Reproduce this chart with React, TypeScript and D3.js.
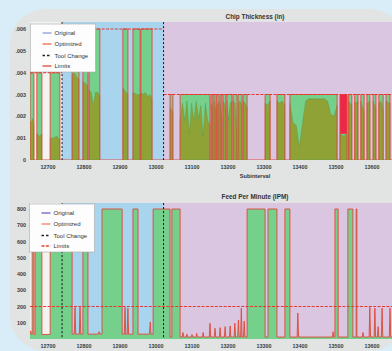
import React from "react"
import * as d3 from "d3"

// axis ticks
const xTicks = [12700, 12800, 12900, 13000, 13100, 13200, 13300, 13400, 13500, 13600]
const chipTicks = [0, 0.001, 0.002, 0.003, 0.004, 0.005, 0.006]
const feedTicks = [100, 200, 300, 400, 500, 600, 700, 800]
const legendLabels = ["Original", "Optimized", "Tool Change", "Limits"]

// tools
const toolChanges = [12739, 13021]
const chipLimits = [0.004, 0.006, 0.003]
const feedLimit = 200
const feedMax = 800
const feedBase = [28, 30, 12]

// chip thickness: [start, end, original samples]
const chipCuts: [number, number, number[]][] = [
    [12650, 12661, [0.0018, 0.0017, 0.0019, 0.0016]],
    [12669, 12683, [0.0012, 0.0011, 0.0012]],
    [12706, 12733, [0.001, 0.001, 0.0011, 0.0009]],
    [12767, 12786, [0.0039, 0.004, 0.0038, 0.0037]],
    [12797, 12811, [0.0036, 0.0035, 0.0034]],
    [12814, 12844, [0.0032, 0.0031, 0.0025, 0.0031, 0.0031, 0.0029]],
    [12908, 12922, [0.0033, 0.0032, 0.0031, 0.003]],
    [12936, 12956, [0.0031, 0.003, 0.003]],
    [12958, 12989, [0.0031, 0.003, 0.0031, 0.0029, 0.003, 0.0028]],
    [13039, 13047, [0.0024, 0.0022]],
    [13067, 13150, [0.0018, 0.0026, 0.0018, 0.0027, 0.0012, 0.0026, 0.0018, 0.0027, 0.0019, 0.0025, 0.0011, 0.0026, 0.0018, 0.0016]],
    [13153, 13158, [0.0026, 0.0024]],
    [13161, 13167, [0.0027, 0.0022]],
    [13169, 13175, [0.0025, 0.0027]],
    [13178, 13183, [0.0026, 0.0019]],
    [13186, 13194, [0.0027, 0.0026, 0.0023]],
    [13197, 13211, [0.0027, 0.0018, 0.0026, 0.0027]],
    [13214, 13225, [0.0027, 0.0026, 0.0013]],
    [13228, 13239, [0.0026, 0.0027, 0.0025]],
    [13242, 13253, [0.0027, 0.0026, 0.0024]],
    [13303, 13317, [0.0026, 0.0025, 0.0027]],
    [13336, 13358, [0.0027, 0.0026, 0.0027, 0.0025]],
    [13372, 13503, [0.0026, 0.0017, 0.0016, 0.0006, 0.0017, 0.0027, 0.0028, 0.0028, 0.0028, 0.0028, 0.0028, 0.0028, 0.0027, 0.0021, 0.002, 0.0025]],
    [13511, 13531, [0.0012, 0.0011, 0.0012]],
    [13535, 13544, [0.0027, 0.0025]],
    [13552, 13561, [0.0026, 0.0027]],
    [13569, 13578, [0.0027, 0.0022]],
    [13586, 13594, [0.0026, 0.0027]],
    [13603, 13611, [0.0027, 0.0024]],
    [13619, 13631, [0.0026, 0.0027, 0.0023]],
    [13639, 13650, [0.0027, 0.0026]],
    [13658, 13678, [0.0027, 0.0025, 0.0026]],
]
const chipAlerts: [number, number, number][] = [[13511, 13531, 0.0012]]

// feed per minute
const feedAir: [number, number][] = [
    [12656, 12661], [12664, 12683], [12706, 12767], [12797, 12811], [12850, 12906],
    [12936, 12950], [12992, 13039], [13044, 13067], [13253, 13303], [13311, 13336],
    [13358, 13372], [13497, 13506], [13533, 13547], [13556, 13558],
]
const feedSpikes: [number, number][] = [
    [12652, 50], [12775, 195], [12789, 195], [12842, 45], [12914, 195], [12922, 190], [12984, 105],
    [13075, 40], [13086, 30], [13100, 28], [13113, 35], [13131, 40], [13150, 97], [13164, 66],
    [13178, 70], [13192, 76], [13206, 80], [13219, 97], [13229, 117], [13237, 190], [13245, 110],
    [13394, 160], [13492, 45], [13575, 40], [13594, 195], [13608, 190], [13617, 76], [13628, 190], [13650, 190],
]

const FONT = "'Liberation Sans', Arial, sans-serif"
const toolColors = ["#f3f3f2", "#a9d4ee", "#dac6e0"]
const RED = "#e2463a"
const GREEN = "#74d08c"
const OLIVE = "#8fa236"

export default function App() {
    const x = d3.scaleLinear().domain([12650, 13900]).range([30, 480])
    const yChip = d3.scaleLinear().domain([0, 0.006]).range([160, 29])
    const yFeed = d3.scaleLinear().domain([0, 800]).range([339, 209])
    const [xMin, xMax] = x.domain()
    const toolAt = (v: number) => (v < toolChanges[0] ? 0 : v < toolChanges[1] ? 1 : 2)
    const spans = [xMin, ...toolChanges, xMax]

    const chipLine = d3.line<[number, number]>().x((d) => x(d[0])).y((d) => yChip(d[1]))
    const chipArea = d3.area<[number, number]>().x((d) => x(d[0])).y0(yChip(0)).y1((d) => yChip(d[1]))
    const feedLine = d3.line<[number, number]>().x((d) => x(d[0])).y((d) => yFeed(d[1]))
    const feedArea = d3.area<[number, number]>().x((d) => x(d[0])).y0(yFeed(0)).y1((d) => yFeed(d[1]))

    // optimized chip step line
    const chipPts: [number, number][] = [[xMin, 0]]
    chipCuts.forEach(([s, e]) => {
        const lim = chipLimits[toolAt(s)]
        chipPts.push([s, 0], [s, lim], [e, lim], [e, 0])
    })
    chipPts.push([xMax, 0])

    // optimized feed line
    const base = (v: number) => feedBase[toolAt(v)]
    const feats: { start: number; pts: [number, number][] }[] = []
    feedAir.forEach(([s, e]) =>
        feats.push({ start: s, pts: [[s, base(s)], [s, feedMax], [e, feedMax], [e, base(e)]] })
    )
    feedSpikes.forEach(([v, h]) =>
        feats.push({ start: v - 2, pts: [[v - 2, base(v)], [v, h], [v + 2, base(v)]] })
    )
    toolChanges.forEach((tc) => {
        if (!feedAir.some(([s, e]) => s <= tc && e >= tc))
            feats.push({ start: tc, pts: [[tc, feedBase[toolAt(tc) - 1]], [tc, feedBase[toolAt(tc)]]] })
    })
    feats.sort((a, b) => a.start - b.start)
    const feedPts: [number, number][] = [[xMin, base(xMin)], ...feats.flatMap((f) => f.pts), [xMax, base(xMax)]]

    const plotBg = (top: number, bottom: number) =>
        spans.slice(0, -1).map((s, i) => (
            <rect key={i} x={x(s)} y={top} width={x(spans[i + 1]) - x(s)} height={bottom - top} fill={toolColors[i]} />
        ))

    const toolLines = (top: number, bottom: number) =>
        toolChanges.map((tc) => (
            <line key={tc} x1={x(tc)} x2={x(tc)} y1={top} y2={bottom} stroke="#1b1b1b" strokeWidth={1} strokeDasharray="2.2 1.8" />
        ))

    const legend = (lx: number, ly: number, colors: string[], limitDash: string | undefined) => (
        <g transform={`translate(${lx},${ly})`}>
            <rect x={0} y={0} width={65} height={48} fill="#fdfdfd" stroke="#a8a8a8" strokeWidth={0.6} />
            {legendLabels.map((lab, i) => {
                const yy = [9, 20, 31.5, 42][i]
                return (
                    <g key={lab}>
                        <line x1={12} x2={21} y1={yy} y2={yy} stroke={colors[i]} strokeWidth={1.3}
                            strokeDasharray={i === 2 ? "2.5 2" : i === 3 ? limitDash : undefined} />
                        <text x={24} y={yy + 2} fontSize={6} fill="#333" fontFamily={FONT}>{lab}</text>
                    </g>
                )
            })}
        </g>
    )

    const xAxis = (yy: number) =>
        xTicks.map((t) => (
            <text key={t} x={x(t)} y={yy} fontSize={5.4} fontWeight={700} fill="#3a3a3a" textAnchor="middle" fontFamily={FONT}>
                {t}
            </text>
        ))

    return (
        <svg width={392} height={351} style={{ position: "absolute", left: 0, top: 0 }}>
            <defs>
                <clipPath id="clipTop"><rect x={30} y={22} width={450} height={138} /></clipPath>
                <clipPath id="clipBot"><rect x={30} y={203} width={450} height={136} /></clipPath>
                <filter id="soft" x="-2%" y="-2%" width="104%" height="104%">
                    <feGaussianBlur stdDeviation={0.4} />
                </filter>
            </defs>
            <rect width={392} height={351} fill="#d8edf7" />
            <rect x={10} y={9} width={395} height={342} rx={35} fill="#e2e3e3" />

            {/* chip thickness */}
            <text x={255} y={19} fontSize={6.4} fontWeight={700} fill="#333" textAnchor="middle" fontFamily={FONT}>
                Chip Thickness (in)
            </text>
            <g clipPath="url(#clipTop)">
                <g filter="url(#soft)">
                    {plotBg(22, 160)}
                    {chipCuts.map(([s, e]) => (
                        <rect key={s} x={x(s)} y={yChip(chipLimits[toolAt(s)])} width={x(e) - x(s)}
                            height={yChip(0) - yChip(chipLimits[toolAt(s)])} fill={GREEN} />
                    ))}
                    {chipCuts.map(([s, e, vals]) => {
                        const pts: [number, number][] = vals.map((v, i) => [s + ((e - s) * i) / (vals.length - 1), v])
                        return <path key={s} d={chipArea(pts) || ""} fill={OLIVE} stroke="#4f9450" strokeWidth={0.35} />
                    })}
                    {chipAlerts.map(([s, e, lo]) => (
                        <rect key={s} x={x(s)} y={yChip(chipLimits[toolAt(s)])} width={x(e) - x(s)}
                            height={yChip(lo) - yChip(chipLimits[toolAt(s)])} fill="#ee2848" />
                    ))}
                    <path d={chipLine(chipPts) || ""} fill="none" stroke={RED} strokeWidth={0.9} />
                    {spans.slice(0, -1).map((s, i) => (
                        <line key={i} x1={x(s)} x2={x(spans[i + 1])} y1={yChip(chipLimits[i])} y2={yChip(chipLimits[i])}
                            stroke="#e8382e" strokeWidth={1.2} strokeDasharray="3 1.4" />
                    ))}
                    {toolLines(22, 160)}
                </g>
            </g>
            {chipTicks.map((t) => (
                <text key={t} x={26} y={yChip(t) + 2} fontSize={5.4} fontWeight={700} fill="#3a3a3a" textAnchor="end" fontFamily={FONT}>
                    {t === 0 ? "0" : d3.format(".3f")(t).slice(1)}
                </text>
            ))}
            {xAxis(169)}
            <text x={255} y={178} fontSize={5.6} fontWeight={700} fill="#333" textAnchor="middle" fontFamily={FONT}>
                Subinterval
            </text>
            {legend(30.5, 24, ["#8e9be0", "#ef6a4c", "#222", RED], undefined)}

            {/* feed per minute */}
            <text x={255} y={199} fontSize={6.4} fontWeight={700} fill="#333" textAnchor="middle" fontFamily={FONT}>
                Feed Per Minute (IPM)
            </text>
            <g clipPath="url(#clipBot)">
                <g filter="url(#soft)">
                    {plotBg(203, 339)}
                    <path d={feedArea(feedPts) || ""} fill={GREEN} />
                    <path d={feedLine(feedPts) || ""} fill="none" stroke={RED} strokeWidth={0.9} />
                    <line x1={x(xMin)} x2={x(xMax)} y1={yFeed(feedLimit)} y2={yFeed(feedLimit)}
                        stroke="#e8382e" strokeWidth={1.2} strokeDasharray="3 1.4" />
                    {toolLines(203, 339)}
                </g>
            </g>
            {feedTicks.map((t) => (
                <text key={t} x={26} y={yFeed(t) + 2} fontSize={5.4} fontWeight={700} fill="#3a3a3a" textAnchor="end" fontFamily={FONT}>
                    {t}
                </text>
            ))}
            {xAxis(348)}
            {legend(29.5, 204, ["#6f5fc8", "#f08060", "#222", RED], "3 1.4")}
        </svg>
    )
}
